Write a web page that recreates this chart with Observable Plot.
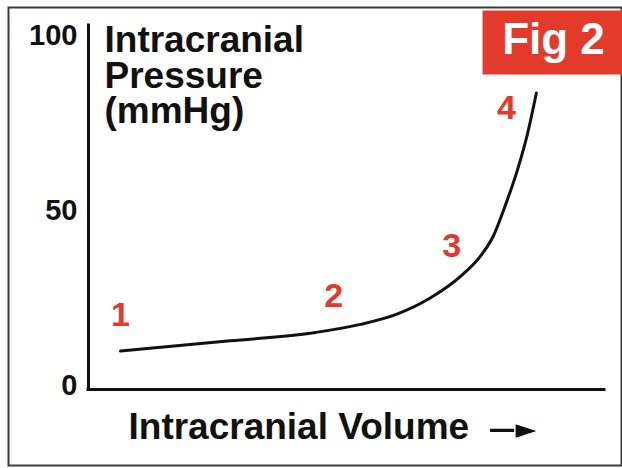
<!DOCTYPE html>
<html><head><meta charset="utf-8">
<script src="https://cdn.jsdelivr.net/npm/d3@7"></script>
<script src="https://cdn.jsdelivr.net/npm/@observablehq/plot@0.6"></script>
<style>
body{margin:0;background:#fff;}
#chart svg{display:block;}
</style></head><body><div id="chart"></div>
<script>
// Pressure–volume curve (arbitrary volume units, pressure in mmHg)
const volume   = [6.2, 27.5, 44.0, 52.7, 59.9, 66.3, 72.7, 76.0, 78.5, 80.4, 83.1, 85.1, 86.8];
const pressure = [10.0, 12.9, 15.3, 17.6, 20.6, 25.2, 32.1, 37.2, 43.0, 50.1, 61.6, 72.2, 83.7];
// Stage markers
const stageLabels   = ["1", "2", "3", "4"];
const stageVolume   = [6.2, 47.5, 70.4, 81.0];
const stagePressure = [20.3, 25.8, 40.1, 79.4];
// Axes
const yTicks = [0, 50, 100];
const yTitle = ["Intracranial", "Pressure", "(mmHg)"];
const xTitle = "Intracranial Volume";
const xArrow = "—►";
const figLabel = "Fig 2";

const curve = volume.map((v, i) => ({v, p: pressure[i]}));
const stages = stageLabels.map((s, i) => ({s, v: stageVolume[i], p: stagePressure[i]}));

const red = "#e43a2b";
const font = "'Liberation Sans', Arial, Helvetica, sans-serif";

const plot = Plot.plot({
  width: 622,
  height: 468,
  marginLeft: 88,
  marginRight: 18,
  marginTop: 25,
  marginBottom: 79,
  style: {fontFamily: font, background: "#fff"},
  x: {domain: [0, 100], axis: null},
  y: {domain: [-1, 103], axis: null},
  marks: [
    Plot.frame({insetLeft: -80, insetTop: -18, insetRight: -17, insetBottom: -76, stroke: "#3a3a3a", strokeWidth: 2}),
    Plot.frame({insetLeft: 394, insetTop: -15, insetRight: -18, insetBottom: 315, fill: red, stroke: null}),
    Plot.text([figLabel], {frameAnchor: "top-right", textAnchor: "middle", lineAnchor: "top", dx: -51, dy: -3, fontSize: 44, fontWeight: "bold", fill: "#fff"}),
    Plot.axisY(yTicks, {tickSize: 0, tickPadding: 11, fontSize: 29, fontWeight: "bold", fill: "#111", label: null}),
    Plot.ruleX([0], {stroke: "#111", strokeWidth: 3, strokeLinecap: "square"}),
    Plot.ruleY([-1], {stroke: "#111", strokeWidth: 3, strokeLinecap: "square"}),
    Plot.line(curve, {x: "v", y: "p", curve: "monotone-x", stroke: "#111", strokeWidth: 3}),
    Plot.text(stages, {x: "v", y: "p", text: "s", fill: red, fontSize: 34, fontWeight: "bold"}),
    Plot.text([yTitle.join("\n")], {frameAnchor: "top-left", textAnchor: "start", lineAnchor: "top", dx: 16, dy: 2, fontSize: 37, lineHeight: 0.95, fontWeight: "bold", fill: "#111"}),
    Plot.text([xTitle], {frameAnchor: "bottom-left", textAnchor: "start", lineAnchor: "top", dx: 40, dy: 23, fontSize: 37, fontWeight: "bold", fill: "#111"}),
    Plot.text([xArrow], {frameAnchor: "bottom-left", textAnchor: "start", lineAnchor: "middle", dx: 400, dy: 40, fontSize: 27, fontFamily: "DejaVu Sans", fontWeight: "bold", letterSpacing: -4, fill: "#111"})
  ]
});
document.getElementById("chart").appendChild(plot);
</script>
</body></html>
